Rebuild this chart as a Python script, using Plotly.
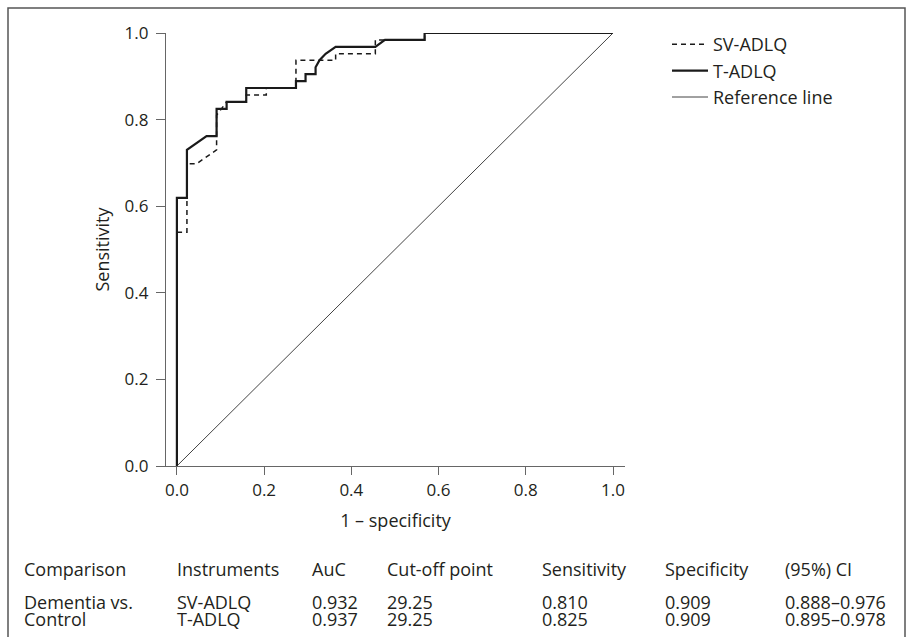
import plotly.graph_objects as go

# ---- data ----
t_fpr = [0.0, 0.0, 0.023, 0.023, 0.068, 0.091, 0.091, 0.114, 0.114, 0.159, 0.159,
         0.273, 0.273, 0.295, 0.295, 0.318, 0.318, 0.327, 0.341, 0.364, 0.455,
         0.477, 0.568, 0.568, 1.0]
t_sens = [0.0, 0.619, 0.619, 0.730, 0.762, 0.762, 0.825, 0.825, 0.841, 0.841, 0.873,
          0.873, 0.889, 0.889, 0.905, 0.905, 0.921, 0.937, 0.952, 0.968, 0.968,
          0.984, 0.984, 1.0, 1.0]

sv_fpr = [0.0, 0.0, 0.023, 0.023, 0.045, 0.091, 0.091, 0.114, 0.159, 0.159, 0.205,
          0.205, 0.273, 0.273, 0.364, 0.364, 0.455, 0.455, 0.477, 0.568, 0.568, 1.0]
sv_sens = [0.0, 0.540, 0.540, 0.698, 0.698, 0.730, 0.810, 0.841, 0.841, 0.857, 0.857,
           0.873, 0.873, 0.937, 0.937, 0.952, 0.952, 0.984, 0.984, 0.984, 1.0, 1.0]

ref_x = [0.0, 1.0]
ref_y = [0.0, 1.0]

tick_vals = [0.0, 0.2, 0.4, 0.6, 0.8, 1.0]
tick_text = ["0.0", "0.2", "0.4", "0.6", "0.8", "1.0"]

table_header = ["Comparison", "Instruments", "AuC", "Cut-off point", "Sensitivity", "Specificity", "(95%) CI"]
table_row1 = ["Dementia vs.", "SV-ADLQ", "0.932", "29.25", "0.810", "0.909", "0.888–0.976"]
table_row2 = ["Control", "T-ADLQ", "0.937", "29.25", "0.825", "0.909", "0.895–0.978"]

# ---- layout constants ----
W, H = 909, 637
L, R, T, B = 166, 625, 33, 466
FONT = "Open Sans"
TXT = "#231f20"

fig = go.Figure()
fig.add_trace(go.Scatter(x=sv_fpr, y=sv_sens, mode="lines", name="SV-ADLQ",
                         line=dict(color="#1a1a1a", width=1.5, dash="5px,4px"),
                         cliponaxis=False))
fig.add_trace(go.Scatter(x=t_fpr, y=t_sens, mode="lines", name="T-ADLQ",
                         line=dict(color="#1a1a1a", width=2.2),
                         cliponaxis=False))
fig.add_trace(go.Scatter(x=ref_x, y=ref_y, mode="lines", name="Reference line",
                         line=dict(color="#2e2e2e", width=0.9),
                         cliponaxis=False))

def px_x(px):
    return (px - L) / (R - L)

def px_y(py):
    return (B - py) / (B - T)

col_x = [22, 175, 310, 385, 540, 663, 783]
row_y = [569, 602, 619]
ann = []
for ri, row in enumerate([table_header, table_row1, table_row2]):
    for ci, txt in enumerate(row):
        ann.append(dict(x=px_x(col_x[ci]), y=px_y(row_y[ri]), xref="paper", yref="paper",
                        text=txt, showarrow=False, xanchor="left", yanchor="middle",
                        font=dict(family=FONT, size=18, color=TXT)))

fig.update_layout(
    width=W, height=H,
    margin=dict(l=L, r=W - R, t=T, b=H - B, autoexpand=False),
    paper_bgcolor="white", plot_bgcolor="white",
    font=dict(family=FONT, size=17, color=TXT),
    showlegend=True,
    legend=dict(x=px_x(667), y=px_y(26), xanchor="left", yanchor="top",
                font=dict(family=FONT, size=18, color=TXT),
                bgcolor="rgba(0,0,0,0)", itemwidth=36),
    annotations=ann,
    shapes=[dict(type="rect", xref="paper", yref="paper",
                 x0=px_x(8), x1=px_x(905), y0=px_y(660), y1=px_y(8),
                 line=dict(color="#555555", width=1.5), layer="below")],
)
fig.update_xaxes(range=[-0.025, 1.0275], tickvals=tick_vals, ticktext=tick_text,
                 showline=True, linecolor="#666666", linewidth=1.2,
                 ticks="outside", ticklen=8, tickcolor="#666666", tickwidth=1.2,
                 showgrid=False, zeroline=False,
                 tickfont=dict(family=FONT, size=17, color=TXT),
                 title=dict(text="1 – specificity", standoff=14,
                            font=dict(family=FONT, size=18, color=TXT)))
fig.update_yaxes(range=[0, 1], tickvals=tick_vals, ticktext=tick_text,
                 showline=True, linecolor="#666666", linewidth=1.2,
                 ticks="outside", ticklen=9, tickcolor="#666666", tickwidth=1.2,
                 showgrid=False, zeroline=False, ticklabelstandoff=4,
                 tickfont=dict(family=FONT, size=17, color=TXT),
                 title=dict(text="Sensitivity", standoff=10,
                            font=dict(family=FONT, size=18, color=TXT)))

fig.write_html("out.html", config={"displayModeBar": False},
               post_script="document.body.style.margin='0';document.body.style.overflow='hidden';")
